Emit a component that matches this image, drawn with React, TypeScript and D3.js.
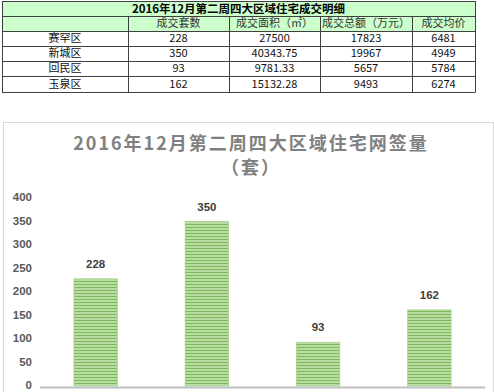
import React, { useRef, useEffect } from 'react';
import * as d3 from 'd3';

const districts = ['赛罕区', '新城区', '回民区', '玉泉区'];
const deals = [228, 350, 93, 162];
const areas = ['27500', '40343.75', '9781.33', '15132.28'];
const totals = ['17823', '19967', '5657', '9493'];
const avgPrices = ['6481', '4949', '5784', '6274'];
const tableTitle = '2016年12月第二周四大区域住宅成交明细';
const columnHeads = ['', '成交套数', '成交面积（㎡）', '成交总额（万元）', '成交均价'];
const chartTitle = ['2016年12月第二周四大区域住宅网签量', '（套）'];
const yTicks = [0, 50, 100, 150, 200, 250, 300, 350, 400];

const W = 494;
const H = 392;
const FONT = '"Noto Sans CJK SC", "Liberation Sans", sans-serif';

export default function App() {
  const svgRef = useRef<SVGSVGElement>(null);

  useEffect(() => {
    const svg = d3.select(svgRef.current);
    svg.selectAll('*').remove();

    // ---- table ----
    const colEdges = [2, 128, 229, 320, 412, 475];
    const rowEdges = [1, 16, 31, 46, 61, 76, 92];
    const t = svg.append('g');
    t.append('rect')
      .attr('x', colEdges[0]).attr('y', rowEdges[0])
      .attr('width', colEdges[5] - colEdges[0]).attr('height', rowEdges[2] - rowEdges[0])
      .attr('fill', '#ccffcc');

    rowEdges.forEach((y) => {
      t.append('line')
        .attr('x1', colEdges[0]).attr('x2', colEdges[5])
        .attr('y1', y + 0.5).attr('y2', y + 0.5)
        .attr('stroke', '#404040').attr('stroke-width', 1);
    });
    colEdges.forEach((x, i) => {
      const y0 = i === 0 || i === colEdges.length - 1 ? rowEdges[0] : rowEdges[1];
      t.append('line')
        .attr('x1', x + 0.5).attr('x2', x + 0.5)
        .attr('y1', y0).attr('y2', rowEdges[6] + 0.5)
        .attr('stroke', '#404040').attr('stroke-width', 1);
    });

    t.append('text')
      .attr('x', (colEdges[0] + colEdges[5]) / 2)
      .attr('y', (rowEdges[0] + rowEdges[1]) / 2 + 1)
      .attr('text-anchor', 'middle').attr('dominant-baseline', 'middle')
      .attr('font-family', FONT).attr('font-size', 11.5).attr('font-weight', 'bold')
      .attr('fill', '#000')
      .text(tableTitle);

    const rows = [columnHeads].concat(
      districts.map((d, i) => [d, String(deals[i]), areas[i], totals[i], avgPrices[i]])
    );
    rows.forEach((row, r) => {
      row.forEach((cell, c) => {
        t.append('text')
          .attr('x', (colEdges[c] + colEdges[c + 1]) / 2)
          .attr('y', (rowEdges[r + 1] + rowEdges[r + 2]) / 2 + 1)
          .attr('text-anchor', 'middle').attr('dominant-baseline', 'middle')
          .attr('font-family', FONT).attr('font-size', 11)
          .attr('fill', r === 0 ? '#333' : '#111')
          .text(cell);
      });
    });

    // ---- chart ----
    svg.append('rect')
      .attr('x', 3.5).attr('y', 122.5)
      .attr('width', W - 4).attr('height', H)
      .attr('fill', '#fff').attr('stroke', '#d9d9d9');

    const title = svg.append('text')
      .attr('text-anchor', 'middle')
      .attr('font-family', FONT).attr('font-size', 18).attr('font-weight', 'bold')
      .attr('fill', '#808080').attr('letter-spacing', 2);
    chartTitle.forEach((line, i) => {
      title.append('tspan')
        .attr('x', 251).attr('y', 150 + i * 24)
        .text(line);
    });

    const x = d3.scaleBand().domain(districts).range([40, 485]).paddingInner(0.61).paddingOuter(0.305);
    const y = d3.scaleLinear().domain([0, 400]).range([386, 198]);

    const defs = svg.append('defs');
    const pat = defs.append('pattern')
      .attr('id', 'stripes').attr('patternUnits', 'userSpaceOnUse')
      .attr('width', 4).attr('height', 3);
    pat.append('rect').attr('width', 4).attr('height', 3).attr('fill', '#b9dca2');
    pat.append('rect').attr('y', 2).attr('width', 4).attr('height', 1).attr('fill', '#80b95a');

    svg.append('g').selectAll('text').data(yTicks).join('text')
      .attr('x', 32).attr('y', (d) => y(d))
      .attr('text-anchor', 'end').attr('dominant-baseline', 'middle')
      .attr('font-family', '"Liberation Sans", sans-serif').attr('font-size', 11.5).attr('font-weight', 'bold')
      .attr('fill', '#595959')
      .text((d) => d);

    svg.append('g').selectAll('rect').data(deals).join('rect')
      .attr('x', (d, i) => x(districts[i])!)
      .attr('y', (d) => y(d))
      .attr('width', x.bandwidth())
      .attr('height', (d) => y(0) - y(d))
      .attr('fill', 'url(#stripes)')
      .attr('stroke', '#a9d18e').attr('stroke-width', 0.8);

    svg.append('g').selectAll('text').data(deals).join('text')
      .attr('x', (d, i) => x(districts[i])! + x.bandwidth() / 2)
      .attr('y', (d) => y(d) - 11)
      .attr('text-anchor', 'middle')
      .attr('font-family', '"Liberation Sans", sans-serif').attr('font-size', 11.5).attr('font-weight', 'bold')
      .attr('fill', '#404040')
      .text((d) => d);

    svg.append('line')
      .attr('x1', 40).attr('x2', 485)
      .attr('y1', 387.5).attr('y2', 387.5)
      .attr('stroke', '#bfbfbf').attr('stroke-width', 2);
  }, []);

  return (
    <svg
      ref={svgRef}
      width={W}
      height={H}
      style={{ position: 'absolute', left: 0, top: 0, background: '#fff' }}
    />
  );
}
